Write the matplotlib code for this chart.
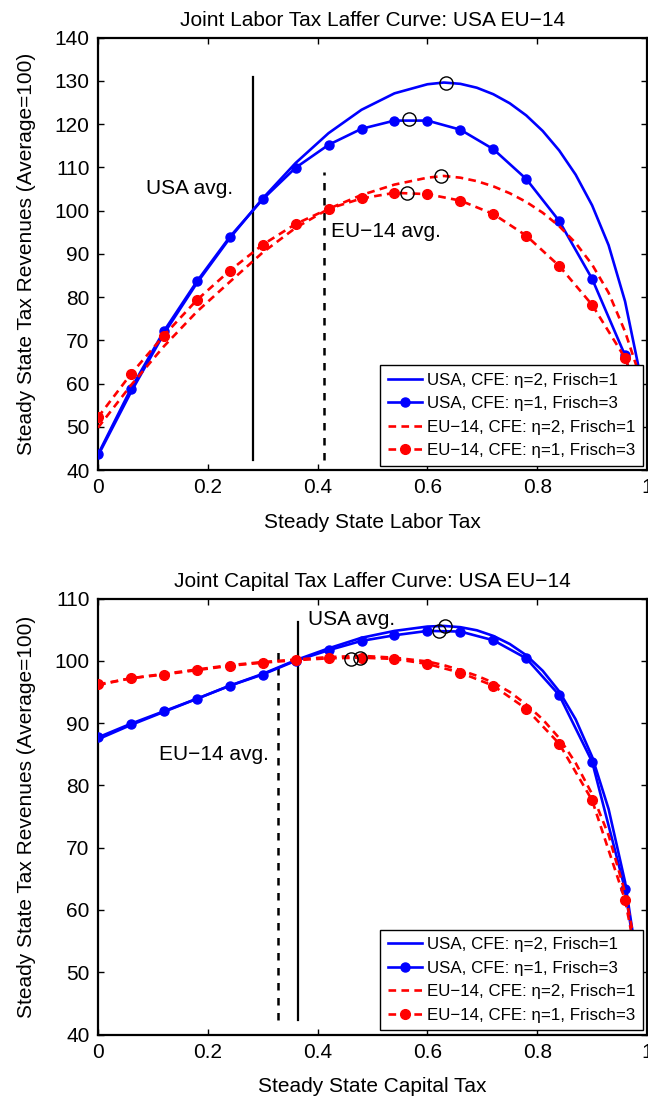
import matplotlib
matplotlib.use('Agg')
import matplotlib.pyplot as plt

plt.rcParams['font.family'] = ['Liberation Sans', 'DejaVu Sans']

# ─── Data ───────────────────────────────────────────────────────────────
# marker grid of the eta=1 curves (last point has no marker)
x_marked = [0, 0.06, 0.12, 0.18, 0.24, 0.30, 0.36, 0.42, 0.48, 0.54, 0.60,
            0.66, 0.72, 0.78, 0.84, 0.90, 0.96, 0.99]
# grid of the eta=2 curves (finer where they bend)
x_smooth = [0, 0.06, 0.12, 0.18, 0.24, 0.30, 0.36, 0.42, 0.48, 0.54, 0.60,
            0.63, 0.66, 0.69, 0.72, 0.75, 0.78, 0.81, 0.84, 0.87, 0.90,
            0.93, 0.96, 0.99]

# labor tax panel
lab_usa_eta2 = [43.3, 58.0, 71.5, 83.2, 93.6, 102.8, 111.0, 117.9, 123.3,
                127.1, 129.2, 129.6, 129.3, 128.4, 126.9, 124.8, 122.0,
                118.4, 113.9, 108.3, 101.2, 92.0, 79.0, 60.5]
lab_usa_eta1 = [43.6, 58.8, 72.1, 83.6, 93.9, 102.6, 109.9, 115.2, 118.9,
                120.8, 120.8, 118.7, 114.2, 107.3, 97.6, 84.2, 66.5, 52.0]
lab_eu_eta2 = [49.8, 59.6, 68.6, 76.6, 83.5, 90.3, 96.0, 100.4, 103.6,
               106.0, 107.6, 108.0, 107.6, 106.8, 105.6, 104.0, 102.0,
               99.5, 96.4, 92.5, 87.5, 81.0, 72.0, 60.5]
lab_eu_eta1 = [52.2, 62.2, 71.1, 79.3, 86.1, 92.1, 96.9, 100.4, 102.8,
               104.1, 103.8, 102.3, 99.2, 94.2, 87.2, 78.2, 65.9, 56.0]
lab_peaks_x = [0.633, 0.567, 0.624, 0.562]
lab_peaks_y = [129.6, 121.1, 108.0, 104.1]
lab_avg_x = [0.282, 0.411]          # USA avg, EU-14 avg
lab_avg_top = [130.8, 109.0]

# capital tax panel
cap_usa_eta2 = [87.4, 89.7, 91.8, 93.9, 96.0, 97.9, 100.1, 102.0, 103.7,
                104.8, 105.5, 105.6, 105.4, 104.9, 104.0, 102.7, 100.9,
                98.4, 95.1, 90.6, 84.6, 76.2, 64.5, 47.0]
cap_usa_eta1 = [87.7, 89.9, 91.9, 93.9, 96.0, 97.8, 100.0, 101.7, 103.2,
                104.1, 104.8, 104.7, 103.3, 100.4, 94.5, 83.8, 63.3, 46.0]
cap_eu_eta2 = [96.1, 97.2, 97.9, 98.6, 99.3, 99.8, 100.2, 100.6, 100.8,
               100.5, 99.9, 99.3, 98.5, 97.6, 96.5, 95.0, 93.0, 90.6, 87.6,
               83.6, 78.6, 72.0, 62.8, 49.0]
cap_eu_eta1 = [96.2, 97.2, 97.8, 98.5, 99.2, 99.7, 100.1, 100.4, 100.5,
               100.3, 99.5, 98.1, 96.0, 92.3, 86.7, 77.6, 61.6, 48.0]
cap_peaks_x = [0.632, 0.621, 0.478, 0.461]
cap_peaks_y = [105.6, 104.8, 100.5, 100.3]
cap_avg_x = [0.364, 0.328]
cap_avg_top = [106.3, 101.5]

labels = ['USA, CFE: η=2, Frisch=1', 'USA, CFE: η=1, Frisch=3',
          'EU−14, CFE: η=2, Frisch=1', 'EU−14, CFE: η=1, Frisch=3']

BLUE = '#0000FF'
RED = '#FF0000'
FS = 15


def panel(ax, usa2, usa1, eu2, eu1, px, py, avg_x, avg_top, ylim, yticks,
          title, xlabel):
    n_mark = list(range(len(x_marked) - 1))
    ax.plot(x_smooth, usa2, color=BLUE, lw=1.9, label=labels[0], zorder=3)
    ax.plot(x_marked, usa1, color=BLUE, lw=1.9, marker='o', ms=6.5,
            markevery=n_mark, label=labels[1], zorder=3)
    ax.plot(x_smooth, eu2, color=RED, lw=1.9, dashes=(2.9, 2.0),
            label=labels[2], zorder=3)
    ax.plot(x_marked, eu1, color=RED, lw=1.9, dashes=(2.9, 2.0), marker='o',
            ms=7, markevery=n_mark, label=labels[3], zorder=3)
    ax.plot(px, py, 'o', mfc='none', mec='black', ms=9.5, mew=1.0, zorder=4)

    ax.plot([avg_x[0], avg_x[0]], [ylim[0] + 2.4, avg_top[0]], color='black',
            lw=1.6, zorder=2)
    ax.plot([avg_x[1], avg_x[1]], [ylim[0] + 2.4, avg_top[1]], color='black',
            lw=1.8, dashes=(3.0, 3.0), zorder=2)

    ax.set_xlim(0, 1)
    ax.set_ylim(*ylim)
    ax.set_xticks([0, 0.2, 0.4, 0.6, 0.8, 1])
    ax.set_xticklabels(['0', '0.2', '0.4', '0.6', '0.8', '1'])
    ax.set_yticks(yticks)
    ax.tick_params(direction='in', top=True, right=True, length=4, width=1,
                   labelsize=FS, pad=6)
    for s in ax.spines.values():
        s.set_linewidth(1.6)
    ax.set_title(title, fontsize=FS, pad=8)
    ax.set_xlabel(xlabel, fontsize=FS, labelpad=11)
    ax.set_ylabel('Steady State Tax Revenues (Average=100)', fontsize=FS,
                  labelpad=13)

    leg = ax.legend(loc='lower right', fontsize=12.2, frameon=True,
                    fancybox=False, framealpha=1, edgecolor='black',
                    handlelength=2.0, handletextpad=0.3, labelspacing=0.5,
                    borderpad=0.45, borderaxespad=0.25)
    leg.get_frame().set_linewidth(1.0)
    leg.set_zorder(5)


fig = plt.figure(figsize=(6.48, 10.98), dpi=100)
ax1 = fig.add_axes([0.1512, 0.5719, 0.8473, 0.3939])
ax2 = fig.add_axes([0.1512, 0.0578, 0.8473, 0.3971])

panel(ax1, lab_usa_eta2, lab_usa_eta1, lab_eu_eta2, lab_eu_eta1,
      lab_peaks_x, lab_peaks_y, lab_avg_x, lab_avg_top, (40, 140),
      range(40, 141, 10), 'Joint Labor Tax Laffer Curve: USA EU−14',
      'Steady State Labor Tax')
ax1.text(0.087, 105.1, 'USA avg.', fontsize=FS, va='center', ha='left')
ax1.text(0.424, 95.2, 'EU−14 avg.', fontsize=FS, va='center', ha='left')

panel(ax2, cap_usa_eta2, cap_usa_eta1, cap_eu_eta2, cap_eu_eta1,
      cap_peaks_x, cap_peaks_y, cap_avg_x, cap_avg_top, (40, 110),
      range(40, 111, 10), 'Joint Capital Tax Laffer Curve: USA EU−14',
      'Steady State Capital Tax')
ax2.text(0.383, 106.6, 'USA avg.', fontsize=FS, va='center', ha='left')
ax2.text(0.112, 84.9, 'EU−14 avg.', fontsize=FS, va='center', ha='left')

fig.savefig('out.png', dpi=100, facecolor='white')
